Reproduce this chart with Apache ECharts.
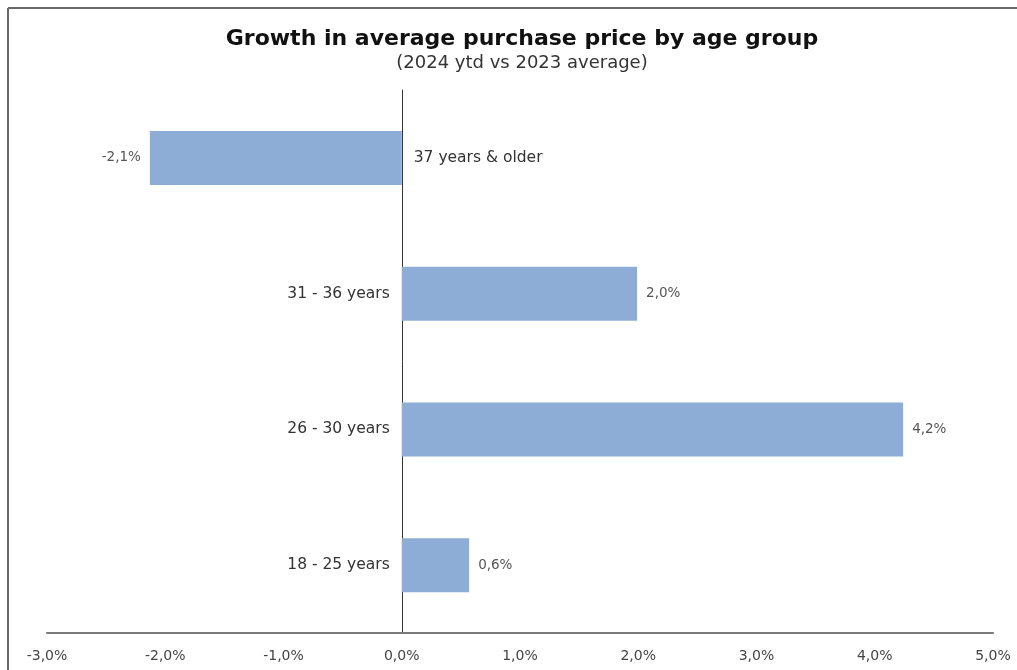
<!DOCTYPE html>
<html>
<head>
<meta charset="utf-8">
<title>Growth in average purchase price by age group</title>
<script src="https://cdn.jsdelivr.net/npm/echarts@6/dist/echarts.min.js"></script>
<style>
  html, body { margin: 0; padding: 0; background: #ffffff; }
  #chart { width: 1017px; height: 670px; }
</style>
</head>
<body>
<div id="chart"></div>
<script>
// Age groups, bottom to top
const ageGroups = ['18 - 25 years', '26 - 30 years', '31 - 36 years', '37 years & older'];
// Growth in average purchase price, % (2024 ytd vs 2023 average)
const growth = [0.57, 4.24, 1.99, -2.13];
// Value axis range and step, %
const axisMin = -3;
const axisMax = 5;
const axisStep = 1;

const FONT = '"DejaVu Sans", "Noto Sans", sans-serif';
const fmtPct = v => v.toFixed(1).replace('.', ',') + '%';

const chart = echarts.init(document.getElementById('chart'), null, { renderer: 'canvas' });

chart.setOption({
  animation: false,
  backgroundColor: '#ffffff',
  title: {
    text: 'Growth in average purchase price by age group',
    subtext: '(2024 ytd vs 2023 average)',
    left: 517,
    textAlign: 'center',
    top: 23,
    itemGap: 4,
    textStyle: { fontFamily: FONT, fontSize: 22, fontWeight: 'bold', color: '#111111' },
    subtextStyle: { fontFamily: FONT, fontSize: 18, color: '#333333' }
  },
  graphic: [
    { type: 'line', shape: { x1: 8, y1: 8, x2: 1017, y2: 8 }, style: { stroke: '#6a6a6a', lineWidth: 2 } },
    { type: 'line', shape: { x1: 8, y1: 8, x2: 8, y2: 670 }, style: { stroke: '#6a6a6a', lineWidth: 2 } }
  ],
  grid: { left: 47, right: 24, top: 90, bottom: 37, containLabel: false },
  xAxis: {
    type: 'value',
    min: axisMin,
    max: axisMax,
    interval: axisStep,
    axisLine: { show: true, lineStyle: { color: '#7a7a7a', width: 2 } },
    axisTick: { show: false },
    splitLine: { show: false },
    axisLabel: {
      margin: 16,
      fontFamily: FONT,
      fontSize: 14,
      color: '#444444',
      formatter: v => fmtPct(v)
    }
  },
  yAxis: {
    type: 'category',
    data: ageGroups,
    axisLine: { show: true, onZero: true, lineStyle: { color: '#333333', width: 1 } },
    axisTick: { show: false },
    axisLabel: { show: false },
    splitLine: { show: false }
  },
  series: [
    {
      // bars with the age group name beside the zero line
      type: 'bar',
      barWidth: 54,
      itemStyle: { color: '#8eadd6' },
      label: {
        show: true,
        fontFamily: FONT,
        fontSize: 15.5,
        color: '#333333',
        distance: 12,
        formatter: p => ageGroups[p.dataIndex]
      },
      // names sit on the open side of the zero line
      data: growth.map(v => ({ value: v, label: { position: v < 0 ? 'right' : 'left' } })),
      z: 2
    },
    {
      // value labels at the outer end of each bar
      type: 'bar',
      barWidth: 54,
      barGap: '-100%',
      itemStyle: { color: 'rgba(0,0,0,0)' },
      label: {
        show: true,
        fontFamily: FONT,
        fontSize: 13.5,
        color: '#555555',
        distance: 9,
        formatter: p => fmtPct(p.value)
      },
      data: growth.map(v => ({ value: v, label: { position: v < 0 ? 'left' : 'right' } })),
      silent: true,
      z: 3
    }
  ]
});
</script>
</body>
</html>
